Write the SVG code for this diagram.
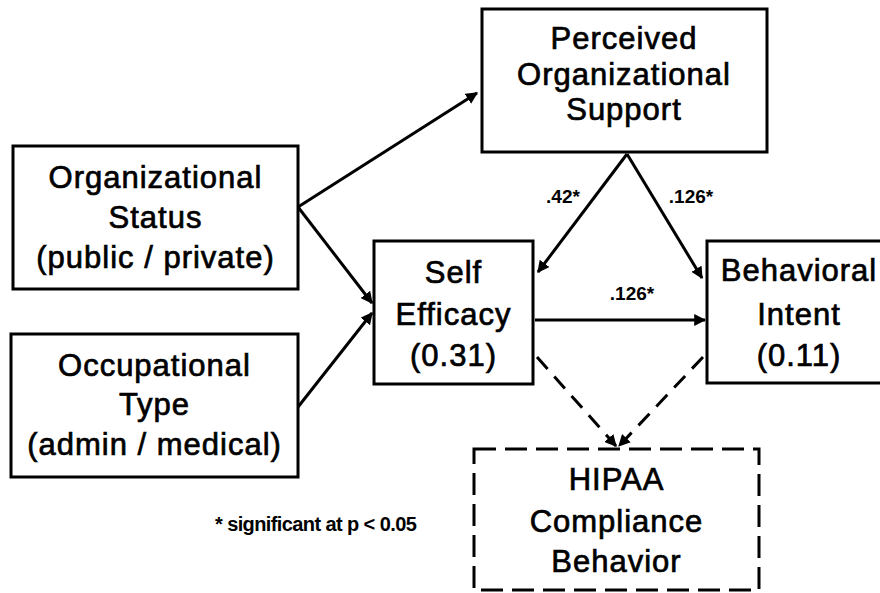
<svg xmlns="http://www.w3.org/2000/svg" width="880" height="593" viewBox="0 0 880 593">
<style>
.box{fill:#fff;stroke:#000;stroke-width:3}
.dbox{fill:#fff;stroke:#000;stroke-width:3;stroke-dasharray:22 9}
.t{font-family:"Liberation Sans",Arial,sans-serif;font-size:31px;text-anchor:middle;fill:#000;stroke:#000;stroke-width:0.7;letter-spacing:1px}
.lbl{font-family:"Liberation Sans",Arial,sans-serif;font-weight:bold;font-size:19px;text-anchor:middle;fill:#000}
.note{font-family:"Liberation Sans",Arial,sans-serif;font-weight:bold;font-size:20px;fill:#000;letter-spacing:-0.6px}
.c{fill:none;stroke:#000;stroke-width:3}
.d{fill:none;stroke:#000;stroke-width:3;stroke-dasharray:16 10}
</style>
<defs>
<marker id="ah" viewBox="0 0 10 10" refX="9" refY="5" markerWidth="4" markerHeight="4" markerUnits="strokeWidth" orient="auto">
<path d="M0,0 L10,5 L0,10 z" fill="#000"/>
</marker>
</defs>
<rect width="880" height="593" fill="#fff"/>
<g id="connectors">
<line class="c" x1="298" y1="207" x2="477" y2="93" marker-end="url(#ah)"/>
<line class="c" x1="298" y1="207" x2="372" y2="303" marker-end="url(#ah)"/>
<line class="c" x1="298" y1="407" x2="372" y2="313" marker-end="url(#ah)"/>
<line class="c" x1="627" y1="154" x2="538" y2="272" marker-end="url(#ah)"/>
<line class="c" x1="627" y1="154" x2="702" y2="278" marker-end="url(#ah)"/>
<line class="c" x1="535" y1="320" x2="705" y2="320" marker-end="url(#ah)"/>
<line class="d" x1="537" y1="357" x2="616" y2="446" marker-end="url(#ah)"/>
<line class="d" x1="703" y1="357" x2="619" y2="446" marker-end="url(#ah)"/>
<text class="lbl" x="563" y="203">.42*</text>
<text class="lbl" x="691" y="203">.126*</text>
<text class="lbl" x="632" y="300">.126*</text>
</g>
<g id="perceived">
<rect class="box" x="482" y="9" width="285" height="143"/>
<text class="t" x="624" y="49">Perceived</text>
<text class="t" x="624" y="85">Organizational</text>
<text class="t" x="624" y="120">Support</text>
</g>
<g id="orgstatus">
<rect class="box" x="13" y="146" width="285" height="143"/>
<text class="t" x="155.5" y="188">Organizational</text>
<text class="t" x="155.5" y="228">Status</text>
<text class="t" x="155.5" y="268">(public / private)</text>
</g>
<g id="occtype">
<rect class="box" x="11" y="334" width="287" height="143"/>
<text class="t" x="154.5" y="376">Occupational</text>
<text class="t" x="154.5" y="415">Type</text>
<text class="t" x="154.5" y="455">(admin / medical)</text>
</g>
<g id="selfefficacy">
<rect class="box" x="374" y="241" width="159" height="143"/>
<text class="t" x="453.5" y="283">Self</text>
<text class="t" x="453.5" y="325">Efficacy</text>
<text class="t" x="453.5" y="366">(0.31)</text>
</g>
<g id="behavioral">
<rect class="box" x="707" y="241" width="184" height="142"/>
<text class="t" x="799" y="281">Behavioral</text>
<text class="t" x="799" y="325">Intent</text>
<text class="t" x="799" y="366">(0.11)</text>
</g>
<g id="hipaa">
<rect class="dbox" x="474" y="449" width="285" height="141"/>
<text class="t" x="616.5" y="490">HIPAA</text>
<text class="t" x="616.5" y="532">Compliance</text>
<text class="t" x="616.5" y="572">Behavior</text>
</g>
<g id="note">
<text class="note" x="215" y="531">* significant at p &lt; 0.05</text>
</g>
</svg>
